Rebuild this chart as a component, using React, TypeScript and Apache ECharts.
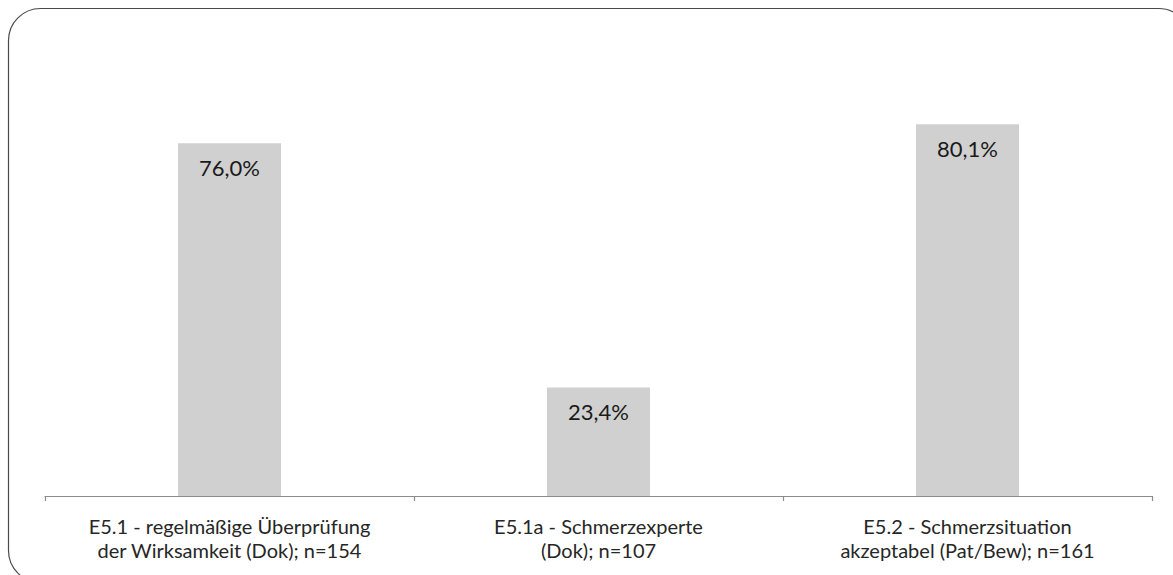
import React, { useEffect, useRef } from "react";
import * as echarts from "echarts";

const categories = [
  "E5.1 - regelmäßige Überprüfung\nder Wirksamkeit (Dok); n=154",
  "E5.1a - Schmerzexperte\n(Dok); n=107",
  "E5.2 - Schmerzsituation\nakzeptabel (Pat/Bew); n=161",
];
const values = [76.0, 23.4, 80.1];

const FONT = "Lato, 'Open Sans', sans-serif";

export default function App() {
  const ref = useRef<HTMLDivElement>(null);

  useEffect(() => {
    if (!ref.current) return;
    const chart = echarts.init(ref.current, undefined, { renderer: "svg" });
    chart.setOption({
      animation: false,
      backgroundColor: "#ffffff",
      graphic: [
        {
          type: "rect",
          shape: { x: 8.5, y: 8.5, width: 1182, height: 574, r: 32 },
          style: { fill: "none", stroke: "#4a4a4a", lineWidth: 1.2 },
          silent: true,
        },
      ],
      grid: { left: 45, right: 21, top: 32, bottom: 79 },
      xAxis: {
        type: "category",
        data: categories,
        axisLine: { lineStyle: { color: "#8c8c8c", width: 1.2 } },
        axisTick: { show: true, length: 5, lineStyle: { color: "#8c8c8c", width: 1.2 } },
        axisLabel: {
          color: "#262626",
          fontFamily: FONT,
          fontSize: 20,
          lineHeight: 24,
          margin: 18,
          interval: 0,
        },
      },
      yAxis: {
        type: "value",
        min: 0,
        max: 100,
        show: false,
        splitLine: { show: false },
      },
      series: [
        {
          type: "bar",
          data: values,
          barWidth: 103,
          itemStyle: { color: "#d0d0d0" },
          label: {
            show: true,
            position: "insideTop",
            distance: 13,
            color: "#1a1a1a",
            fontFamily: FONT,
            fontSize: 22,
            formatter: (p: any) => p.value.toFixed(1).replace(".", ",") + "%",
          },
        },
      ],
    });
    return () => chart.dispose();
  }, []);

  return (
    <div
      ref={ref}
      style={{ position: "absolute", left: 0, top: 0, width: 1173, height: 575 }}
    />
  );
}
